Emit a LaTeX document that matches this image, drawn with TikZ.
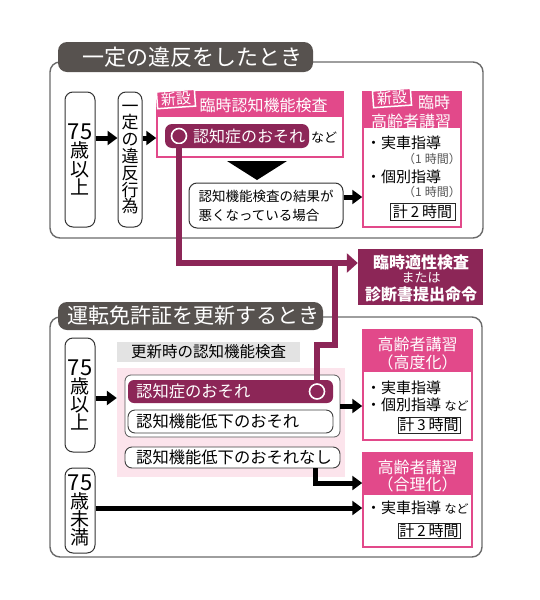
\documentclass[tikz,border=0pt]{standalone}
\usepackage{fontspec}
\setmainfont{Noto Sans CJK JP}
\usetikzlibrary{arrows.meta}
\newcommand\fsz[2]{\fontsize{#1}{#2}\selectfont\lineskiplimit=-50pt\relax}
\newcommand\gsp{\hspace{3pt}}
\definecolor{mag}{HTML}{8C2657}
\definecolor{pnk}{HTML}{E2498A}
\definecolor{pbg}{HTML}{FCE4EC}
\definecolor{tabc}{HTML}{57524F}
\definecolor{frm}{HTML}{6A6A6A}
\definecolor{lbl}{HTML}{E3E3E3}
\definecolor{gtx}{HTML}{555555}
\tikzset{
 frame/.style={draw=frm, line width=1.4pt, rounded corners=10pt, inner sep=0pt},
 tabbox/.style={fill=tabc, rounded corners=9pt, inner sep=0pt},
 tabtxt/.style={text=white, font=\fsz{22}{26}, inner sep=0pt},
 vbox/.style={draw=black!80, line width=1pt, rounded corners=8pt, fill=white, inner sep=0pt, align=center},
 pbox/.style={draw=pnk, line width=1.5pt, fill=white, inner sep=0pt},
 hdr/.style={fill=pnk, inner sep=0pt},
 wt/.style={text=white, font=\fsz{16}{18}, inner sep=0pt},
 tagbox/.style={fill=pnk, draw=white, line width=1.5pt, text=white, font=\fsz{15}{15}, inner xsep=4pt, inner ysep=1.5pt, rotate=4},
 ring/.style={circle, draw=white, line width=1.6pt, fill=mag, minimum size=15pt, inner sep=0pt},
 btxt/.style={anchor=west, font=\fsz{15}{17}, inner sep=0pt},
 ptxt/.style={anchor=east, font=\fsz{12}{14}, text=gtx, inner sep=0pt},
 kbx/.style={draw=black!85, line width=1pt, fill=white, font=\fsz{15}{17}, inner sep=0pt},
 ibx/.style={draw=black!75, line width=0.9pt, rounded corners=7pt, fill=white, inner sep=0pt},
 itxt/.style={anchor=west, font=\fsz{16.3}{18}, inner sep=0pt},
 arr/.style={line width=5pt, -{Triangle[length=10pt,width=14pt]}},
 parr/.style={draw=mag, line width=6pt, -{Triangle[length=11pt,width=19pt]}},
 pline/.style={draw=mag, line width=6pt},
}
\begin{document}
\begin{tikzpicture}[x=1pt,y=-1pt]
\useasboundingbox (0,0) rectangle (539,600);
% frames
\node[frame, minimum width=433pt, minimum height=176pt] (f1) at (266.5,150) {};
\node[frame, minimum width=432pt, minimum height=240pt] (f2) at (266,437) {};
\node[tabbox, minimum width=255pt, minimum height=30pt] (tab1) at (185.5,57) {};
\node[tabtxt] (tab1t) at (192.5,57) {一定の違反をしたとき};
\node[tabbox, minimum width=265pt, minimum height=28pt] (tab2) at (190.5,316) {};
\node[tabtxt, font=\fsz{21}{24}] (tab2t) at (193.5,316) {運転免許証を更新するとき};

% ---- top section
\node[vbox, minimum width=30pt, minimum height=135pt, font=\fsz{19}{18.3}] (a1) at (80,159.5) {{\fsz{22}{18.3}75}\\歳\\以\\上};
\node[vbox, minimum width=24pt, minimum height=135pt, font=\fsz{17}{16.8}] (a2) at (130,159.5) {一\\定\\の\\違\\反\\行\\為};

\node[pbox, minimum width=186pt, minimum height=65pt] (k1) at (250,124.5) {};
\node[hdr, minimum width=186pt, minimum height=25pt] (k1h) at (250,104.5) {};
\node[wt] (k1t) at (263.5,105) {臨時認知機能検査};
\node[tagbox] (s1) at (176,99) {新設};
\node[fill=mag, rounded corners=7pt, minimum width=144pt, minimum height=24pt, inner sep=0pt] (p1) at (237,136) {};
\node[wt] (p1t) at (249,136) {認知症のおそれ};
\node[ring] (c1) at (179,136) {};
\node[font=\fsz{13}{15}, inner sep=0pt] (nd1) at (324,138) {など};

\fill (227,161) -- (287,161) -- (257,180) -- cycle;

\node[vbox, minimum width=154pt, minimum height=45pt, align=left, font=\fsz{13.5}{19}] (r1) at (266,205.5) {認知機能検査の結果が\\悪くなっている場合};

\node[pbox, minimum width=98pt, minimum height=135pt] (k2) at (412,159.5) {};
\node[hdr, minimum width=98pt, minimum height=36pt] (k2h) at (412,110) {};
\node[wt] (k2t1) at (434,102) {臨時};
\node[wt] (k2t2) at (411,121) {高齢者講習};
\node[tagbox] (s2) at (392,98) {新設};
\node[btxt] (k2b1) at (366,143) {・実車指導};
\node[ptxt] (k2b2) at (461,159) {（1\gsp 時間）};
\node[btxt] (k2b3) at (366,177) {・個別指導};
\node[ptxt] (k2b4) at (461,192) {（1\gsp 時間）};
\node[kbx, minimum width=65pt, minimum height=17pt] (k2k) at (422.5,211.5) {計\gsp 2\gsp 時間};

\node[fill=mag, minimum width=125pt, minimum height=56pt, inner sep=0pt] (t1) at (420.5,277) {};
\node[wt, font=\fsz{16}{18}\bfseries] (t1a) at (421,262) {臨時適性検査};
\node[wt, font=\fsz{13}{15}] (t1b) at (421,278) {または};
\node[wt, font=\fsz{16}{18}\bfseries] (t1c) at (421,294) {診断書提出命令};

% arrows top
\coordinate (q1) at ([yshift=21.5pt]a1.east);
\draw[arr] (q1) -- (q1 -| a2.west);
\coordinate (q2) at ([yshift=21.5pt]a2.east);
\draw[arr] (q2) -- (q2 -| k1.west);
\coordinate (q3) at ([yshift=8.5pt]r1.east);
\draw[arr] (q3) -- (q3 -| k2.west);

% ---- bottom section
\node[vbox, minimum width=30pt, minimum height=114pt, font=\fsz{19}{18.3}] (a3) at (80,395) {{\fsz{22}{18.3}75}\\歳\\以\\上};
\node[vbox, minimum width=30pt, minimum height=85pt, font=\fsz{19}{18}] (a4) at (80,510.5) {{\fsz{22}{18}75}\\歳\\未\\満};

\node[fill=lbl, minimum width=183pt, minimum height=20pt, inner sep=0pt, font=\fsz{15.5}{17}] (g1) at (208.5,352) {更新時の認知機能検査};
\node[fill=pbg, minimum width=228pt, minimum height=109pt, inner sep=0pt] (pb) at (231,422.5) {};
\node[draw=black!65, line width=0.8pt, rounded corners=6pt, fill=white, minimum width=215pt, minimum height=62pt, inner sep=0pt] (ob) at (232.5,406) {};
\node[fill=mag, rounded corners=6pt, minimum width=205pt, minimum height=23pt, inner sep=0pt] (m2) at (230.5,391.5) {};
\node[itxt, text=white] (m2t) at (136,391.5) {認知症のおそれ};
\node[ring] (c2) at (317,391.5) {};
\node[ibx, minimum width=205pt, minimum height=23pt] (m3) at (230.5,421.5) {};
\node[itxt] (m3t) at (136,421.5) {認知機能低下のおそれ};
\node[ibx, minimum width=215pt, minimum height=21pt] (m4) at (232.5,457.5) {};
\node[itxt] (m4t) at (136,457.5) {認知機能低下のおそれなし};

\node[pbox, minimum width=109pt, minimum height=110pt] (k3) at (417.5,385) {};
\node[hdr, minimum width=109pt, minimum height=42pt] (k3h) at (417.5,351) {};
\node[wt] (k3t1) at (417.5,344) {高齢者講習};
\node[wt] (k3t2) at (417.5,362) {（高度化）};
\node[btxt] (k3b1) at (366,388) {・実車指導};
\node[btxt] (k3b2) at (366,405) {・個別指導 {\fsz{12}{14}など}};
\node[kbx, minimum width=62pt, minimum height=16pt] (k3k) at (429,425) {計\gsp 3\gsp 時間};

\node[pbox, minimum width=109pt, minimum height=94pt] (k4) at (417.5,500) {};
\node[hdr, minimum width=109pt, minimum height=42pt] (k4h) at (417.5,474) {};
\node[wt] (k4t1) at (417.5,467) {高齢者講習};
\node[wt] (k4t2) at (417.5,484) {（合理化）};
\node[btxt] (k4b1) at (366,508) {・実車指導 {\fsz{12}{14}など}};
\node[kbx, minimum width=62pt, minimum height=15pt] (k4k) at (429,530.5) {計\gsp 2\gsp 時間};

% arrows bottom
\coordinate (q7) at ([yshift=-3pt]a3.east);
\draw[arr] (q7) -- (q7 -| pb.west);
\draw[arr] (ob.east) -- (ob.east -| k3.west);
\coordinate (q5) at ([xshift=82.5pt]m4.south);
\coordinate (q6) at ([yshift=17pt]k4.west);
\draw[arr] (q5) |- (q6);
\coordinate (q8) at ([yshift=2.5pt]a4.east);
\draw[arr] (q8) -- (q8 -| k4.west);

% magenta connectors
\coordinate (q4) at ([yshift=14pt]t1.west);
\draw[parr] (c1.south) |- (q4);
\coordinate (jn) at (335,263);
\coordinate (bd) at (335,345);
\draw[pline] (c2.north) |- (bd) -- (jn);
\end{tikzpicture}
\end{document}
